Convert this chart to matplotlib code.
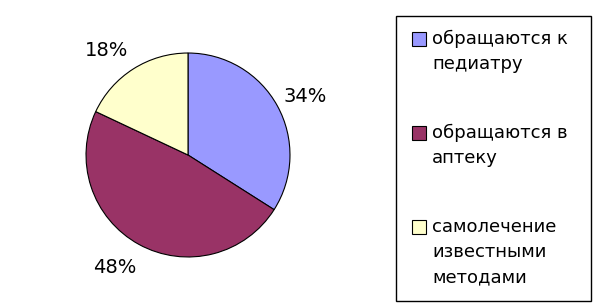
import matplotlib.pyplot as plt
from matplotlib.patches import Rectangle

# Chart data
labels = ['обращаются к\nпедиатру', 'обращаются в\nаптеку', 'самолечение\nизвестными\nметодами']
values = [34, 48, 18]
colors = ['#9999FF', '#993366', '#FFFFCC']

fig = plt.figure(figsize=(6.14, 3.08), dpi=100)
W, H = 614, 308
cx, cy, r = 188, 155, 103
ax = fig.add_axes([(cx - r) / W, (H - cy - r) / H, 2 * r / W, 2 * r / H])

wedges, texts, autotexts = ax.pie(
    values, colors=colors, startangle=90, counterclock=False,
    autopct='%d%%', pctdistance=1.3,
    wedgeprops=dict(edgecolor='black', linewidth=0.8),
    textprops=dict(fontsize=14, color='black'))
ax.set_xlim(-1.01, 1.01)
ax.set_ylim(-1.01, 1.01)
ax.set_aspect('equal')

# nudge the percentage labels to where Excel put them
label_pos = [(1.15, 0.57), (-0.72, -1.10), (-0.80, 1.02)]
for t, p in zip(autotexts, label_pos):
    t.set_position(p)
    t.set_clip_on(False)

# Legend drawn by hand (pixel coords from top-left)
def fx(x):
    return x / W

def fy(y):
    return 1 - y / H

fig.patches.append(Rectangle((fx(396), fy(301)), (591 - 396) / W, (301 - 16) / H,
                             transform=fig.transFigure, facecolor='white',
                             edgecolor='black', linewidth=1.0))
entry_top = [39, 133, 227]
line_h = 25
for top, c, lab in zip(entry_top, colors, labels):
    fig.patches.append(Rectangle((fx(412), fy(top + 7)), 14 / W, 14 / H,
                                 transform=fig.transFigure, facecolor=c,
                                 edgecolor='black', linewidth=0.8))
    for i, line in enumerate(lab.split('\n')):
        fig.text(fx(432), fy(top + i * line_h), line, fontsize=13,
                 ha='left', va='center')

fig.savefig('out.png', dpi=100)
